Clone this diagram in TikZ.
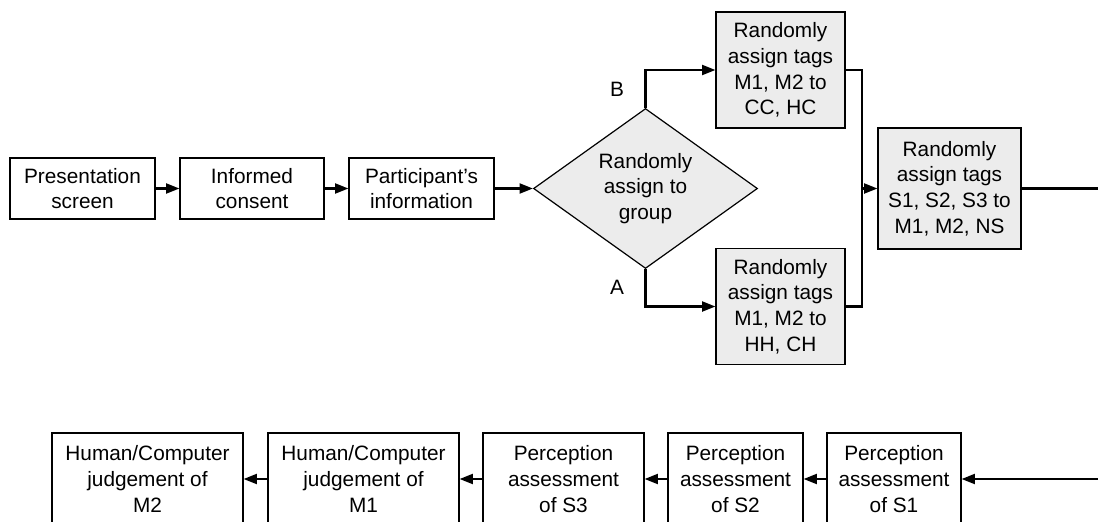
\documentclass[tikz,border=0pt]{standalone}
\usepackage{fontspec}
\setmainfont{Liberation Sans}
\usetikzlibrary{arrows.meta,shapes.geometric}
\definecolor{GrisCaja}{RGB}{236,236,236}

\begin{document}
\begin{tikzpicture}[x=0.75pt, y=-0.75pt, >={Triangle[length=10pt,width=7.5pt]},
    caja/.style={draw, line width=0.9pt, align=center, inner sep=0pt,
        font=\fontsize{15.6}{19.2}\selectfont},
    cajagris/.style={caja, fill=GrisCaja},
    tam/.style 2 args={minimum width=#1*0.75pt, minimum height=#2*0.75pt},
    flecha/.style={->, line width=1.6pt},
    linea/.style={line width=1.6pt}]
    \useasboundingbox (0,0) rectangle (1098,521);
    \clip (0,0) rectangle (1098,521);

    % fila superior
    \node[caja, tam={145}{61}] (pres) at (82.5,188.5)
        {Presentation\\screen};
    \node[caja, tam={144}{61}] (cons) at (252,188.5)
        {Informed\\consent};
    \node[caja, tam={145}{61}] (part) at (421.5,188.5)
        {Participant’s\\information};
    \node[cajagris, shape=diamond, aspect=1.4, tam={224}{160}]
        (grupo) at (645.5,188.5) {Randomly\\assign to\\group};
    \node[cajagris, tam={129}{116}] (tagB) at (780.5,70)
        {Randomly\\assign tags\\M1, M2 to\\CC, HC};
    \node[cajagris, tam={129}{116}] (tagA) at (780.5,306.5)
        {Randomly\\assign tags\\M1, M2 to\\HH, CH};
    \node[cajagris, tam={143}{121}] (tagS) at (949.5,188.5)
        {Randomly\\assign tags\\S1, S2, S3 to\\M1, M2, NS};

    % fila inferior
    \node[caja, tam={134}{92}] (perc1) at (894,479)
        {Perception\\assessment\\of S1};
    \node[caja, tam={135}{92}] (perc2) at (735.5,479)
        {Perception\\assessment\\of S2};
    \node[caja, tam={161}{92}] (perc3) at (563.5,479)
        {Perception\\assessment\\of S3};
    \node[caja, tam={191}{92}] (juicio1) at (363.5,479)
        {Human/Computer\\judgement of\\M1};
    \node[caja, tam={191}{92}] (juicio2) at (147.5,479)
        {Human/Computer\\judgement of\\M2};

    \coordinate (union) at (862,188.5);
    \coordinate (vuelta) at (1130,330);

    \draw[flecha] (pres) -- (cons);
    \draw[flecha] (cons) -- (part);
    \draw[flecha] (part) -- (grupo);
    \draw[flecha] (grupo.north) |- node[pos=0.25, left=12pt,
        font=\fontsize{15.6}{19.2}\selectfont] {B} (tagB.west);
    \draw[flecha] (grupo.south) |- node[pos=0.25, left=12pt,
        font=\fontsize{15.6}{19.2}\selectfont] {A} (tagA.west);
    \draw[linea] (tagB.east) -| (union) |- (tagA.east);
    \draw[flecha] (union) -- (tagS.west);
    \draw[flecha] (tagS.east) -| (vuelta) |- (perc1.east);
    \draw[flecha] (perc1) -- (perc2);
    \draw[flecha] (perc2) -- (perc3);
    \draw[flecha] (perc3) -- (juicio1);
    \draw[flecha] (juicio1) -- (juicio2);
\end{tikzpicture}
\end{document}
